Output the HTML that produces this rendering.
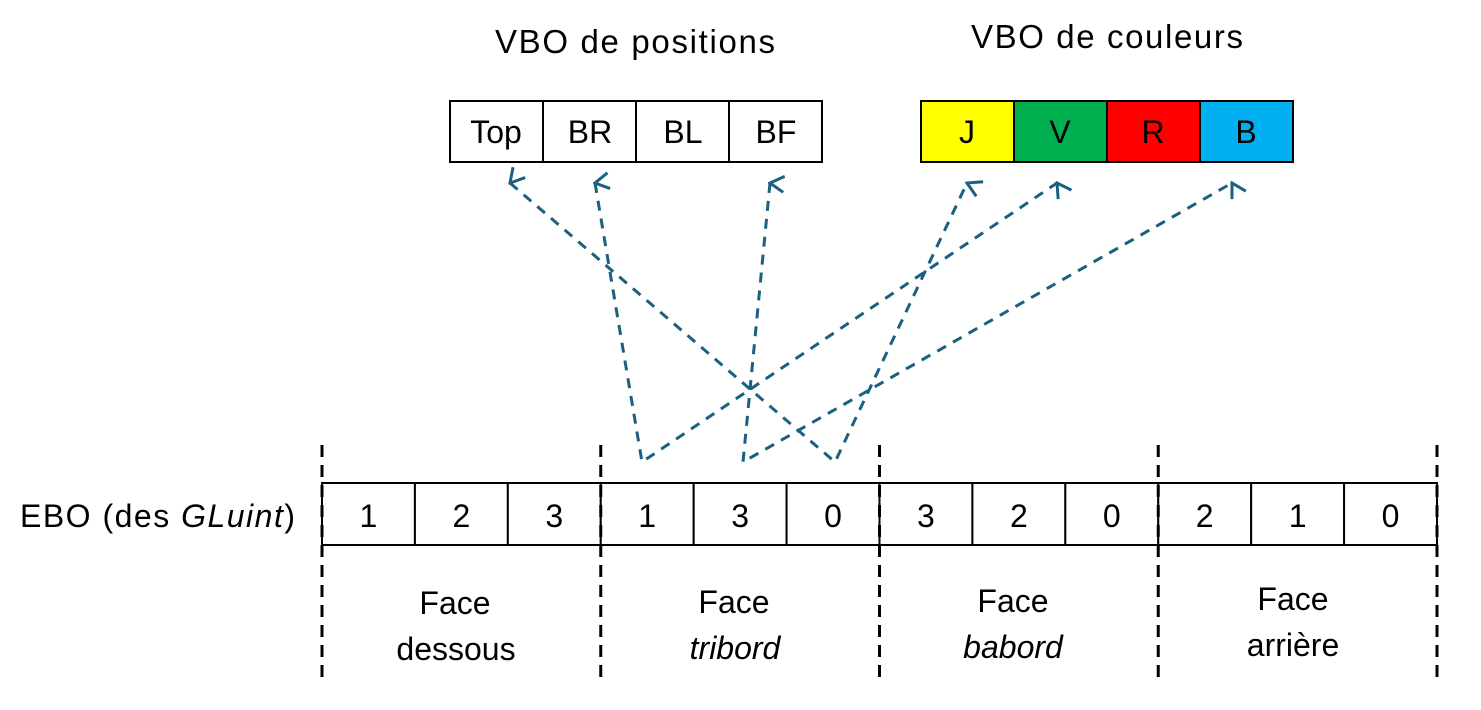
<!DOCTYPE html>
<html><head><meta charset="utf-8"><style>
body{margin:0;background:#fff;}
svg text{font-family:"Liberation Sans",sans-serif;fill:#000;}
</style></head><body>
<svg width="1481" height="705" viewBox="0 0 1481 705">
<defs>
<marker id="ah" viewBox="0 0 20 20" refX="10" refY="2" markerWidth="20" markerHeight="20" markerUnits="userSpaceOnUse" orient="auto-start-reverse">
<path d="M2,16 L10,2 L18,16" fill="none" stroke="#1a6080" stroke-width="3"/>
</marker>
</defs>
<text x="635" y="53" font-size="33" text-anchor="middle" textLength="280">VBO de positions</text>
<text x="1107" y="48" font-size="33" text-anchor="middle" textLength="272">VBO de couleurs</text>
<g stroke="#000" stroke-width="2">
<rect x="450" y="101" width="93" height="61" fill="#fff"/>
<rect x="543" y="101" width="93" height="61" fill="#fff"/>
<rect x="636" y="101" width="93" height="61" fill="#fff"/>
<rect x="729" y="101" width="93" height="61" fill="#fff"/>
</g>
<g font-size="32" text-anchor="middle">
<text x="496" y="143">Top</text><text x="590" y="143">BR</text><text x="683" y="143">BL</text><text x="776" y="143">BF</text>
</g>
<g stroke="#000" stroke-width="2">
<rect x="921" y="101" width="93" height="61" fill="#ffff00"/>
<rect x="1014" y="101" width="93" height="61" fill="#00b050"/>
<rect x="1107" y="101" width="93" height="61" fill="#ff0000"/>
<rect x="1200" y="101" width="93" height="61" fill="#00b0f0"/>
</g>
<g font-size="32" text-anchor="middle">
<text x="967" y="143">J</text><text x="1060" y="143">V</text><text x="1153" y="143">R</text><text x="1246" y="143">B</text>
</g>
<g fill="none" stroke="#1a6080" stroke-width="3" stroke-dasharray="10,8" marker-start="url(#ah)" marker-end="url(#ah)">
<polyline points="595,183 642,462 1057,183"/>
<polyline points="770,183 743,462 1232,183"/>
<polyline points="510,183 835,462 967,183"/>
</g>
<text x="295" y="527" font-size="32" text-anchor="end" textLength="275">EBO (des <tspan font-style="italic">GLuint</tspan>)</text>
<g stroke="#000" stroke-width="2" fill="#fff" id="ebo"></g>
<g font-size="32" text-anchor="middle" id="ebot"></g>
<g stroke="#000" stroke-width="3" stroke-dasharray="12,8" id="div"></g>
<g font-size="32" text-anchor="middle">
<text x="455" y="614">Face</text><text x="456" y="660">dessous</text>
<text x="734" y="613">Face</text><text x="735" y="659" font-style="italic">tribord</text>
<text x="1013" y="612">Face</text><text x="1013" y="658" font-style="italic">babord</text>
<text x="1293" y="610">Face</text><text x="1293" y="656">arrière</text>
</g>
</svg>
<script>
const vals=[1,2,3,1,3,0,3,2,0,2,1,0];
const ns="http://www.w3.org/2000/svg";
const g=document.getElementById('ebo'),gt=document.getElementById('ebot'),gd=document.getElementById('div');
const x0=322,w=(1437-322)/12;
vals.forEach((v,i)=>{
const r=document.createElementNS(ns,'rect');
r.setAttribute('x',x0+i*w);r.setAttribute('y',483);r.setAttribute('width',w);r.setAttribute('height',62);


g.appendChild(r);
const t=document.createElementNS(ns,'text');
t.setAttribute('x',x0+i*w+w/2);t.setAttribute('y',527);t.textContent=v;


gt.appendChild(t);
});
for(let k=0;k<5;k++){
const l=document.createElementNS(ns,'line');
const x=x0+k*3*w;
l.setAttribute('x1',x);l.setAttribute('x2',x);l.setAttribute('y1',445);l.setAttribute('y2',684);


gd.appendChild(l);
}
</script>
</body></html>
